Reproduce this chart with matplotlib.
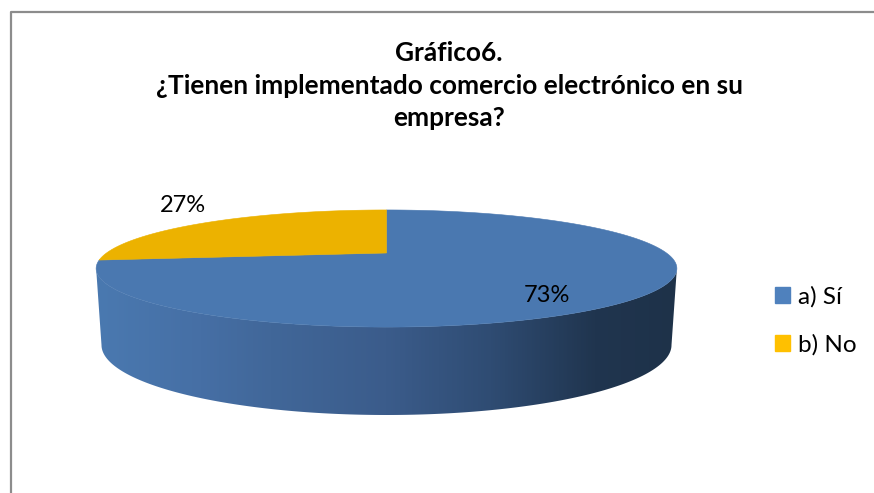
import numpy as np
import matplotlib
matplotlib.use("Agg")
import matplotlib.pyplot as plt
from matplotlib.colors import LinearSegmentedColormap
from matplotlib.patches import Polygon, Patch

title = "Gráfico6.\n¿Tienen implementado comercio electrónico en su\nempresa?"
categories = ["a) Sí", "b) No"]
values = [73, 27]
labels = ["73%", "27%"]

plt.rcParams['font.family'] = ['Lato', 'DejaVu Sans']
W, H = 874, 493
fig = plt.figure(figsize=(W / 100, H / 100), dpi=100, facecolor='white')
ax = fig.add_axes([0, 0, 1, 1])
ax.set_xlim(0, W)
ax.set_ylim(H, 0)
ax.axis('off')

# perspective disc: maps the unit circle to pixels, apex above the ellipse centre
CX, CY, R, B, K = 386.5, 253.0, 280.0, 12.6, 0.265


def disc(theta):
    """theta: clockwise angle from 12 o'clock, radians"""
    u, v = np.sin(theta), np.cos(theta)
    w = 1 + K * v
    return CX + R * u / w, (CY + B * v) / w


fractions = np.array(values, float) / sum(values)
sweep = 2 * np.pi * fractions
t_blue = np.linspace(0, sweep[0], 400)
t_yellow = np.linspace(sweep[0], 2 * np.pi, 200)

# side wall with horizontal shading
t_front = np.linspace(np.pi / 2 - 0.27, 3 * np.pi / 2 + 0.27, 400)
xf, yf = disc(t_front)
i_r, i_l = np.argmax(xf), np.argmin(xf)
xf, yf = xf[i_r:i_l + 1], yf[i_r:i_l + 1]
phi = np.linspace(np.pi, 0, 300)
xb = 386.5 + 285 * np.cos(phi)
yb = 345 + 70 * np.sin(phi)
side = np.column_stack([np.r_[xf, xb], np.r_[yf, yb]])
cmap = LinearSegmentedColormap.from_list(
    "wall",
    [(0.0, "#4a79b0"), (0.18, "#466fa5"), (0.30, "#416799"), (0.50, "#3b5c8b"),
     (0.68, "#2f4c73"), (0.86, "#20354f"), (1.0, "#1e3249")])
img = ax.imshow(np.linspace(0, 1, 600)[None, :], cmap=cmap, aspect='auto',
                extent=[96, 677, 420, 250], zorder=1, interpolation='bilinear')
clip = Polygon(side, closed=True, transform=ax.transData, fc='none', ec='none')
ax.add_patch(clip)
img.set_clip_path(clip)
ax.set_xlim(0, W)
ax.set_ylim(H, 0)

# top face
xa, ya = disc(t_blue)
ax.fill(np.r_[CX, xa], np.r_[CY, ya], color="#4a78b0", lw=0.4, zorder=2)
xa, ya = disc(t_yellow)
ax.fill(np.r_[CX, xa], np.r_[CY, ya], color="#ecb200", lw=0.4, zorder=2)

# data labels
ax.text(546.5, 295.5, labels[0], fontsize=17, color='black', ha='center', va='center', zorder=3)
ax.text(182.5, 205.5, labels[1], fontsize=17, color='black', ha='center', va='center', zorder=3)

# title
ax.text(449, 85.5, title, fontsize=18.9, fontweight='bold', color='black',
        ha='center', va='center', linespacing=1.44)

# chart frame
ax.plot([W, 10.5, 10.5], [12, 12, H], color='#8c8c8c', lw=1.6, clip_on=False, zorder=4)

# legend
handles = [Patch(color="#4f81bd", label=categories[0]), Patch(color="#ffc000", label=categories[1])]
ax.legend(handles=handles, loc='center left', bbox_to_anchor=(775 / W, 1 - 320.5 / H),
          frameon=False, fontsize=17.5, handlelength=0.617, handleheight=0.617,
          handletextpad=0.33, labelspacing=1.09, borderpad=0, borderaxespad=0)

fig.savefig("out.png", dpi=100)
